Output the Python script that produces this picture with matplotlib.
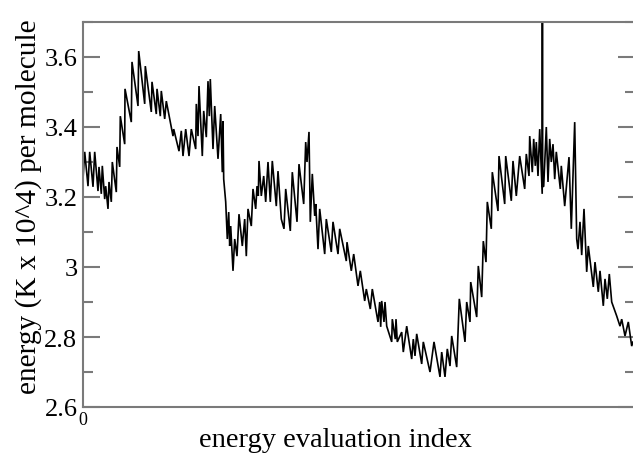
import matplotlib
matplotlib.use("Agg")
import matplotlib.pyplot as plt
from matplotlib.ticker import MultipleLocator, FixedLocator

# energy evaluation index
eval_index = [
    0, 3.4, 10, 13.4, 20, 23.4, 30, 32, 36.6, 38.6, 43.4, 45.4, 50, 52, 56.6, 58.6,
    66.6, 68, 73.4, 74.6, 83.4, 84, 96.6, 98, 110, 111.4, 123.4, 124.6, 136.6, 138,
    146.6, 148, 154.6, 156.6, 163.4, 166.6, 180, 181.4, 192, 196.6,
    200, 205.4, 212, 216.6, 225.4, 226.6, 230, 232, 238.6, 241.4, 246.6, 250, 252.6,
    254.6, 260, 263.4, 270, 275.4, 278.6, 280, 281.4, 285.4, 288.6, 291.4, 293.4,
    295.4, 300, 303.4, 308, 312, 318.6, 323.4, 326.6, 330, 336.6, 340, 345.4, 348,
    350.6, 352, 356.6, 361.4, 365.4, 370, 374.6, 378.6, 386.6, 390, 396.6,
    402, 405.4, 414.6, 418.6, 428, 432, 441.4, 445.4, 448, 452, 454.6, 458.6, 463.4,
    465.4, 470, 473.4, 483.4, 486.6, 496.6, 500, 510, 513.4, 526.6, 528, 536.6,
    541.4, 550, 554.6, 563.4, 566.6, 574.6, 578.6, 590, 593.4, 595.4, 597.4, 602,
    604, 607.4, 617.4, 618.6, 624.6, 626, 628.6, 637.4, 640.6, 647.4, 657.4, 660.6,
    664, 667.4, 677.4, 680.6, 694, 702, 714, 717.4, 724, 728.6, 734, 737.4, 747.4,
    752.6, 764, 767.4, 774, 775.4, 787.4, 790.6, 797.4, 800.6, 806, 808.6, 816.6,
    818.6, 830, 832, 843.4, 845.4, 856.6, 860, 866.6, 873.4, 883.4, 886.6, 892,
    893.4, 898.6, 901.4, 904.6, 906.6, 910, 913.4, 918.4, 918.8, 919.2, 921.4,
    926.6, 930, 933.4, 936.6, 940, 943.4, 946.6, 954.6, 956.6, 963.4, 972, 976.6,
    983.4, 987.4, 990, 994, 997.4, 1002, 1007.4, 1010.6, 1020.6, 1024, 1030.6, 1034,
    1040.6, 1044, 1048.6, 1052.6, 1057.4, 1067.4, 1074, 1077.4, 1084, 1090.6,
    1097.4, 1100,
]

# energy (K x 10^4) per molecule
energy = [
    3.251, 3.329, 3.231, 3.329, 3.229, 3.329, 3.217, 3.286, 3.209, 3.289, 3.194,
    3.231, 3.166, 3.243, 3.186, 3.300, 3.214, 3.343, 3.286, 3.431, 3.351, 3.509,
    3.414, 3.586, 3.460, 3.617, 3.466, 3.574, 3.443, 3.529, 3.437, 3.509, 3.431,
    3.503, 3.423, 3.474, 3.374, 3.394, 3.331, 3.389,
    3.317, 3.394, 3.317, 3.394, 3.337, 3.466, 3.374, 3.517, 3.317, 3.446, 3.371,
    3.531, 3.431, 3.537, 3.337, 3.460, 3.309, 3.437, 3.271, 3.417, 3.251, 3.186,
    3.080, 3.157, 3.060, 3.117, 2.989, 3.080, 3.031, 3.151, 3.060, 3.137, 3.031,
    3.166, 3.117, 3.223, 3.166, 3.231, 3.203, 3.303, 3.203, 3.260, 3.186, 3.300,
    3.186, 3.303, 3.174, 3.274, 3.137,
    3.109, 3.223, 3.103, 3.271, 3.129, 3.294, 3.180, 3.357, 3.300, 3.386, 3.129,
    3.266, 3.146, 3.180, 3.051, 3.166, 3.037, 3.137, 3.043, 3.129, 3.037, 3.109,
    3.017, 3.071, 2.989, 3.037, 2.946, 2.989, 2.903, 2.937, 2.880, 2.937, 2.843,
    2.900, 2.829, 2.903, 2.843, 2.900, 2.831, 2.786, 2.851, 2.794, 2.851, 2.786,
    2.814, 2.757, 2.831, 2.737, 2.794, 2.746, 2.809, 2.723, 2.786, 2.700, 2.786,
    2.686, 2.757, 2.686, 2.766, 2.717, 2.803, 2.714, 2.909, 2.786, 2.900, 2.843,
    2.957, 2.857, 3.003, 2.914, 3.074, 3.014, 3.186, 3.109, 3.271, 3.160, 3.317,
    3.180, 3.317, 3.189, 3.303, 3.203, 3.317, 3.223, 3.323, 3.260, 3.374, 3.271,
    3.366, 3.289, 3.357, 3.260, 3.394, 3.209, 3.750, 3.229, 3.231, 3.400, 3.243,
    3.366, 3.300, 3.351, 3.251, 3.329, 3.223, 3.289, 3.174, 3.314, 3.109, 3.414,
    3.080, 3.051, 3.129, 3.034, 3.166, 2.986, 3.060, 2.943, 3.014, 2.929, 2.989,
    2.889, 2.966, 2.909, 2.980, 2.900, 2.860, 2.831, 2.851, 2.803, 2.843, 2.774,
    2.786,
]

y_ticks = [2.6, 2.8, 3.0, 3.2, 3.4, 3.6]
y_tick_labels = ["2.6", "2.8", "3", "3.2", "3.4", "3.6"]
x_ticks = [0]
x_tick_labels = ["0"]

plt.rcParams["font.family"] = ["Liberation Serif", "DejaVu Serif"]

fig = plt.figure(figsize=(6.33, 4.60), dpi=100)
ax = fig.add_axes([83 / 633, (460 - 408) / 460, (635 - 83) / 633, (408 - 23) / 460])

ax.plot(eval_index, energy, color="black", lw=1.2, solid_joinstyle="miter")

ax.set_xlim(0, 1104)
ax.set_ylim(2.6, 3.7)

ax.yaxis.set_major_locator(FixedLocator(y_ticks))
ax.set_yticklabels(y_tick_labels)
ax.yaxis.set_minor_locator(MultipleLocator(0.1))
ax.xaxis.set_major_locator(FixedLocator(x_ticks))
ax.set_xticklabels(x_tick_labels)

frame_col = "#7a7a7a"
for s in ax.spines.values():
    s.set_color(frame_col)
    s.set_linewidth(1.5)

ax.tick_params(axis="y", which="major", direction="in", length=12, width=1.5,
               color=frame_col, labelsize=19, pad=4, left=True, right=True)
ax.tick_params(axis="y", which="minor", direction="in", length=7, width=1.5,
               color=frame_col, left=True, right=True)
ax.tick_params(axis="x", which="major", length=0, labelsize=13, pad=3)

ax.set_xlabel("energy evaluation index", fontsize=20.5)
ax.set_ylabel("energy (K x 10^4) per molecule", fontsize=21.2)
ax.xaxis.set_label_coords(0.4565, -0.052)
ax.yaxis.set_label_coords(-0.0743, 0.522)

fig.savefig("out.png", dpi=100)
